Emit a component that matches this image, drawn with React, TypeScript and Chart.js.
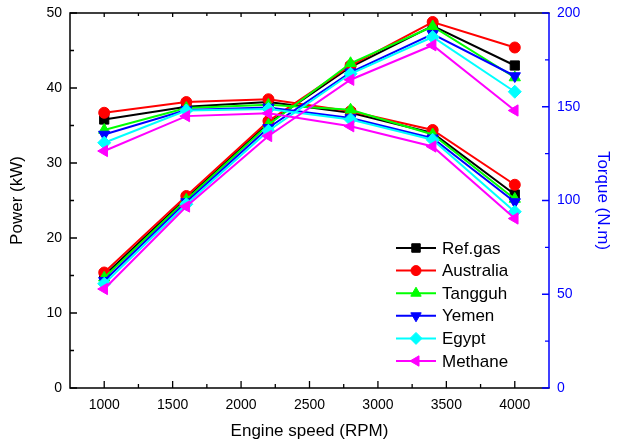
import React, { useEffect, useRef } from "react";
import { Chart, registerables } from "chart.js";
import { drawPoint } from "chart.js/helpers";

Chart.register(...registerables);

// ---------- data ----------
const speeds = [1000, 1600, 2200, 2800, 3400, 4000];
const seriesNames = ["Ref.gas", "Australia", "Tangguh", "Yemen", "Egypt", "Methane"];

const powerRef = [15.0, 25.3, 35.3, 42.8, 48.3, 43.0];
const powerAustralia = [15.4, 25.6, 35.6, 43.0, 48.8, 45.4];
const powerTangguh = [14.7, 25.1, 35.1, 43.3, 48.2, 41.4];
const powerYemen = [14.3, 24.8, 34.7, 42.1, 47.2, 41.6];
const powerEgypt = [13.9, 24.5, 34.3, 41.9, 46.8, 39.5];
const powerMethane = [13.2, 24.2, 33.6, 41.1, 45.7, 37.0];

const torqueRef = [143.2, 150.0, 152.5, 146.8, 136.0, 103.2];
const torqueAustralia = [146.8, 152.5, 154.0, 147.6, 137.6, 108.4];
const torqueTangguh = [137.6, 149.3, 151.0, 148.4, 135.2, 100.8];
const torqueYemen = [135.2, 148.3, 149.6, 144.0, 133.2, 99.2];
const torqueEgypt = [130.8, 148.0, 148.8, 143.2, 132.4, 94.0];
const torqueMethane = [126.4, 145.0, 146.5, 139.6, 128.8, 90.4];

const xTicks = [1000, 1500, 2000, 2500, 3000, 3500, 4000];
const xMinorTicks = [1250, 1750, 2250, 2750, 3250, 3750];
const powerTicks = [0, 10, 20, 30, 40, 50];
const powerMinorTicks = [5, 15, 25, 35, 45];
const torqueTicks = [0, 50, 100, 150, 200];
const torqueMinorTicks = [25, 75, 125, 175];

const powerSeries = [powerRef, powerAustralia, powerTangguh, powerYemen, powerEgypt, powerMethane];
const torqueSeries = [torqueRef, torqueAustralia, torqueTangguh, torqueYemen, torqueEgypt, torqueMethane];

// ---------- styles ----------
const colors = ["#000000", "#ff0000", "#00ff00", "#0000ff", "#00ffff", "#ff00ff"];
const pointStyles = ["rect", "circle", "triangle", "triangle", "rectRot", "triangle"];
const rotations = [0, 0, 0, 180, 0, 270];
const radii = [6.5, 5.5, 6.5, 6.5, 6.5, 6.5];

const FONT = "'Liberation Sans', Arial, sans-serif";
const AXIS_BLUE = "#0000ff";

const framePlugin = {
  id: "frame",
  afterDatasetsDraw(chart: any) {
    const { ctx, chartArea: a, scales } = chart;
    const x = scales.x;
    const y = scales.y;
    const y1 = scales.y1;
    ctx.save();
    ctx.lineWidth = 1.5;
    ctx.lineCap = "square";
    ctx.strokeStyle = "#000";
    ctx.beginPath();
    ctx.moveTo(a.left, a.top);
    ctx.lineTo(a.left, a.bottom);
    ctx.lineTo(a.right, a.bottom);
    ctx.moveTo(a.left, a.top);
    ctx.lineTo(a.right, a.top);
    ctx.stroke();
    ctx.lineCap = "butt";
    ctx.lineWidth = 1.3;
    ctx.beginPath();
    xTicks.forEach((v) => {
      const px = x.getPixelForValue(v);
      ctx.moveTo(px, a.bottom);
      ctx.lineTo(px, a.bottom - 7);
      ctx.moveTo(px, a.top);
      ctx.lineTo(px, a.top + 4);
    });
    xMinorTicks.forEach((v) => {
      const px = x.getPixelForValue(v);
      ctx.moveTo(px, a.bottom);
      ctx.lineTo(px, a.bottom - 4);
      ctx.moveTo(px, a.top);
      ctx.lineTo(px, a.top + 3);
    });
    powerTicks.forEach((v) => {
      const py = y.getPixelForValue(v);
      ctx.moveTo(a.left, py);
      ctx.lineTo(a.left + 7, py);
    });
    powerMinorTicks.forEach((v) => {
      const py = y.getPixelForValue(v);
      ctx.moveTo(a.left, py);
      ctx.lineTo(a.left + 4, py);
    });
    ctx.stroke();
    ctx.strokeStyle = AXIS_BLUE;
    ctx.lineWidth = 1.5;
    ctx.beginPath();
    ctx.moveTo(a.right, a.top);
    ctx.lineTo(a.right, a.bottom);
    ctx.stroke();
    ctx.lineWidth = 1.3;
    ctx.beginPath();
    torqueTicks.forEach((v) => {
      const py = y1.getPixelForValue(v);
      ctx.moveTo(a.right, py);
      ctx.lineTo(a.right - 7, py);
    });
    torqueMinorTicks.forEach((v) => {
      const py = y1.getPixelForValue(v);
      ctx.moveTo(a.right, py);
      ctx.lineTo(a.right - 4, py);
    });
    ctx.stroke();
    ctx.restore();
  },
};

const legendPlugin = {
  id: "customLegend",
  afterDraw(chart: any) {
    const { ctx, chartArea: a } = chart;
    const x0 = a.left + 326;
    const y0 = a.top + 235;
    const rowH = 22.6;
    ctx.save();
    ctx.font = `17px ${FONT}`;
    ctx.textBaseline = "middle";
    seriesNames.forEach((name, i) => {
      const yy = y0 + i * rowH;
      ctx.strokeStyle = colors[i];
      ctx.fillStyle = colors[i];
      ctx.lineWidth = 2;
      ctx.beginPath();
      ctx.moveTo(x0, yy);
      ctx.lineTo(x0 + 40, yy);
      ctx.stroke();
      ctx.lineWidth = 1;
      drawPoint(
        ctx,
        { pointStyle: pointStyles[i], rotation: rotations[i], radius: radii[i] - 0.5, borderWidth: 1 } as any,
        x0 + 20,
        yy
      );
      ctx.fillStyle = "#000";
      ctx.fillText(name, x0 + 46, yy + 1);
    });
    ctx.restore();
  },
};

const zeroPad = (s: any) => {
  s.paddingTop = 0;
  s.paddingBottom = 0;
  s.paddingLeft = 0;
  s.paddingRight = 0;
};

export default function App() {
  const canvasRef = useRef<HTMLCanvasElement | null>(null);

  useEffect(() => {
    if (!canvasRef.current) return;
    Chart.defaults.font.family = FONT;
    const datasets: any[] = [];
    seriesNames.forEach((name, i) => {
      const common = {
        borderColor: colors[i],
        backgroundColor: colors[i],
        pointBackgroundColor: colors[i],
        pointBorderColor: colors[i],
        pointStyle: pointStyles[i],
        rotation: rotations[i],
        pointRadius: radii[i],
        pointBorderWidth: 1,
        borderWidth: 2,
        tension: 0,
        fill: false,
        order: seriesNames.length - i,
      };
      datasets.push({
        ...common,
        label: name + " power",
        yAxisID: "y",
        data: speeds.map((s, j) => ({ x: s, y: powerSeries[i][j] })),
      });
      datasets.push({
        ...common,
        label: name + " torque",
        yAxisID: "y1",
        data: speeds.map((s, j) => ({ x: s, y: torqueSeries[i][j] })),
      });
    });

    const plain = (v: any) => String(v);

    const chart = new Chart(canvasRef.current, {
      type: "line",
      data: { datasets },
      options: {
        animation: false,
        responsive: false,
        maintainAspectRatio: false,
        layout: { padding: { top: 13, left: 0, right: 0, bottom: 0 } },
        plugins: { legend: { display: false }, tooltip: { enabled: false } },
        scales: {
          x: {
            type: "linear",
            min: 750,
            max: 4250,
            grid: { display: false, drawTicks: false },
            border: { display: false },
            afterBuildTicks: (s: any) => {
              s.ticks = xTicks.map((v) => ({ value: v }));
            },
            afterFit: (s: any) => {
              s.height = 59;
              zeroPad(s);
            },
            ticks: { color: "#000", font: { size: 14 }, padding: 9, maxRotation: 0, callback: plain },
            title: {
              display: true,
              text: "Engine speed (RPM)",
              color: "#000",
              font: { size: 17 },
              padding: { top: 0, bottom: 5 },
            },
          },
          y: {
            type: "linear",
            position: "left",
            min: 0,
            max: 50,
            grid: { display: false, drawTicks: false },
            border: { display: false },
            afterBuildTicks: (s: any) => {
              s.ticks = powerTicks.map((v) => ({ value: v }));
            },
            afterFit: (s: any) => {
              s.width = 70;
              zeroPad(s);
            },
            ticks: { color: "#000", font: { size: 14 }, padding: 8, callback: plain },
            title: {
              display: true,
              text: "Power (kW)",
              color: "#000",
              font: { size: 17 },
              padding: { top: 7, bottom: 0 },
            },
          },
          y1: {
            type: "linear",
            position: "right",
            min: 0,
            max: 200,
            grid: { display: false, drawTicks: false },
            border: { display: false },
            afterBuildTicks: (s: any) => {
              s.ticks = torqueTicks.map((v) => ({ value: v }));
            },
            afterFit: (s: any) => {
              s.width = 69;
              zeroPad(s);
            },
            ticks: { color: AXIS_BLUE, font: { size: 14 }, padding: 8, callback: plain },
            title: {
              display: true,
              text: "Torque (N.m)",
              color: AXIS_BLUE,
              font: { size: 17 },
              padding: { top: 5, bottom: 0 },
            },
          },
        },
      },
      plugins: [framePlugin, legendPlugin],
    });
    return () => chart.destroy();
  }, []);

  return (
    <div style={{ position: "absolute", left: 0, top: 0, width: 618, height: 447, background: "#fff" }}>
      <canvas ref={canvasRef} width={618} height={447} style={{ display: "block" }} />
    </div>
  );
}
